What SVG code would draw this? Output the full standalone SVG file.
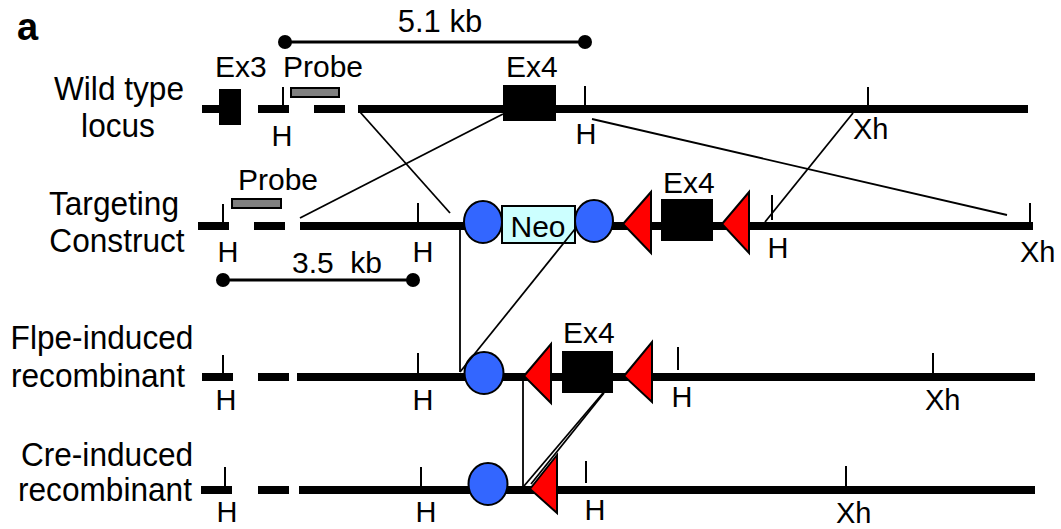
<svg xmlns="http://www.w3.org/2000/svg" width="1061" height="529" viewBox="0 0 1061 529">
<style>
text{font-family:"Liberation Sans",Arial,sans-serif;font-size:30px;fill:#000}
.lbl{text-anchor:middle}
.row{font-size:34px;text-anchor:middle}
.site{font-size:29px}
.dna{stroke:#000;stroke-width:8;fill:none}
.tick{stroke:#000;stroke-width:2;fill:none}
.con{stroke:#000;stroke-width:1.8;fill:none}
.frt{fill:#3366ff;stroke:#000;stroke-width:2}
.lox{fill:#ff0000;stroke:#000;stroke-width:2}
.exon{fill:#000}
.probe{fill:#808080;stroke:#000;stroke-width:2}
.neo{fill:#ccffff;stroke:#000;stroke-width:2}
.scale{stroke:#000;stroke-width:3}
</style>
<rect width="1061" height="529" fill="#fff"/>
<text x="17" y="40" style="font-weight:bold;font-size:38px">a</text>

<g id="scale-5kb">
<line class="scale" x1="285" y1="42" x2="585" y2="42"/>
<circle cx="285" cy="42" r="7"/>
<circle cx="585" cy="42" r="7"/>
<text x="440" y="32" class="lbl" style="font-size:31px">5.1 kb</text>
</g>

<g id="wildtype">
<text class="row" transform="translate(119,100) scale(0.93,1)">Wild type</text>
<text class="row" transform="translate(118,137) scale(0.93,1)">locus</text>
<path class="dna" d="M202 109H240M258 109H289M314 109H345M358 109H1028"/>
<rect class="exon" x="219" y="89" width="22" height="36"/>
<text x="215" y="77">Ex3</text>
<rect class="probe" x="291" y="88" width="48" height="9"/>
<text x="283" y="77">Probe</text>
<rect class="exon" x="503" y="85" width="53" height="36"/>
<text x="506" y="77">Ex4</text>
<path class="tick" d="M283 87V105M585 86V105M868 87V105"/>
<text x="282" y="146" class="lbl site">H</text>
<text x="586" y="144" class="lbl site">H</text>
<text x="853" y="139" class="site">Xh</text>
</g>

<g id="targeting">
<text class="row" transform="translate(114,215) scale(0.93,1)">Targeting</text>
<text class="row" transform="translate(117,252) scale(0.93,1)">Construct</text>
<path class="dna" d="M198 226H229M254 226H285M300 226H1033"/>
<rect class="probe" x="232" y="199" width="49" height="9"/>
<text x="238" y="190">Probe</text>
<path class="tick" d="M223 204V222M418 203V222M772 195V220M1030 203V222"/>
<text x="228" y="262" class="lbl site">H</text>
<text x="423" y="262" class="lbl site">H</text>
<text x="778" y="258" class="lbl site">H</text>
<text x="1020" y="262" class="site">Xh</text>
<ellipse class="frt" cx="483" cy="222" rx="19" ry="21"/>
<rect class="neo" x="502" y="206" width="73" height="37"/>
<text x="538" y="237" class="lbl">Neo</text>
<ellipse class="frt" cx="594" cy="221" rx="19" ry="21"/>
<polygon class="lox" points="623,224 651,192 651,253"/>
<rect class="exon" x="661" y="199" width="52" height="42"/>
<text x="663" y="193">Ex4</text>
<polygon class="lox" points="722,224 749,192 749,253"/>
</g>

<g id="scale-3kb">
<line class="scale" x1="223" y1="280" x2="413" y2="280"/>
<circle cx="223" cy="280" r="7"/>
<circle cx="413" cy="280" r="7"/>
<text x="292" y="273" xml:space="preserve">3.5  kb</text>
</g>

<g id="flpe">
<text class="row" transform="translate(102,349) scale(0.93,1)">Flpe-induced</text>
<text class="row" transform="translate(98,387) scale(0.93,1)">recombinant</text>
<path class="dna" d="M202 377H233M258 377H289M297 377H1035"/>
<path class="tick" d="M223 355V373M418 353V373M678 347V370M933 353V373"/>
<text x="226" y="410" class="lbl site">H</text>
<text x="423" y="410" class="lbl site">H</text>
<text x="682" y="407" class="lbl site">H</text>
<text x="925" y="410" class="site">Xh</text>
<ellipse class="frt" cx="484" cy="373" rx="19.5" ry="21"/>
<polygon class="lox" points="524,376 551,344 551,403"/>
<rect class="exon" x="562" y="351" width="51" height="42"/>
<text x="563" y="343">Ex4</text>
<polygon class="lox" points="624,376 652,342 652,402"/>
</g>

<g id="cre">
<text class="row" transform="translate(107,466) scale(0.93,1)">Cre-induced</text>
<text class="row" transform="translate(105,501) scale(0.93,1)">recombinant</text>
<path class="dna" d="M201 490H232M258 490H289M299 490H1035"/>
<path class="tick" d="M225 467V486M421 467V486M586 461V483M846 466V486"/>
<text x="227" y="522" class="lbl site">H</text>
<text x="426" y="522" class="lbl site">H</text>
<text x="595" y="520" class="lbl site">H</text>
<text x="836" y="523" class="site">Xh</text>
<ellipse class="frt" cx="488" cy="484" rx="19.5" ry="21"/>
<polygon class="lox" points="530,489 557,455 557,513"/>
</g>

<g id="connectors">
<line class="con" x1="360" y1="112" x2="450" y2="213"/>
<line class="con" x1="503" y1="114" x2="300" y2="218"/>
<line class="con" x1="592" y1="119" x2="1007" y2="215"/>
<line class="con" x1="853" y1="113" x2="765" y2="222"/>
<line class="con" x1="460" y1="226" x2="460" y2="372"/>
<line class="con" x1="575" y1="229" x2="460" y2="372"/>
<line class="con" x1="523" y1="376" x2="523" y2="487"/>
<line class="con" x1="603" y1="393" x2="524" y2="486"/>
<line class="con" x1="604" y1="393" x2="531" y2="484"/>
</g>
</svg>
